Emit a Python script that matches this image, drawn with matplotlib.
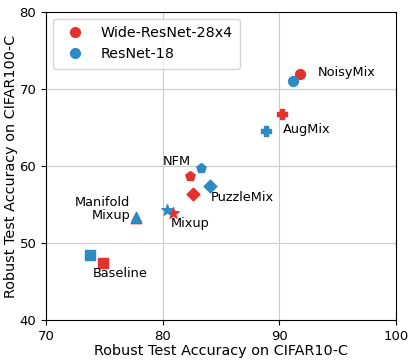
import matplotlib
matplotlib.use("Agg")
import matplotlib.pyplot as plt
from matplotlib.lines import Line2D

# Robust accuracy (CIFAR10-C, CIFAR100-C) per method
methods = ["Baseline", "Manifold Mixup", "Mixup", "PuzzleMix", "NFM", "AugMix", "NoisyMix"]
markers = ["s", "^", "*", "D", "p", "P", "o"]

wrn_c10 = [74.9, 77.7, 80.9, 82.6, 82.3, 90.2, 91.8]
wrn_c100 = [47.4, 53.2, 53.9, 56.4, 58.7, 66.8, 72.0]

rn_c10 = [73.8, 77.7, 80.4, 84.1, 83.3, 88.9, 91.2]
rn_c100 = [48.4, 53.4, 54.3, 57.4, 59.7, 64.6, 71.0]

red = "#e3312d"
blue = "#2f8ac4"

fig = plt.figure(figsize=(4.15, 3.63), dpi=100)
ax = fig.add_axes([0.111, 0.118, 0.843, 0.849])

sizes = {"s": 50, "^": 55, "*": 70, "D": 42, "p": 50, "P": 50, "o": 50}
for i, m in enumerate(methods):
    ax.scatter(wrn_c10[i], wrn_c100[i], marker=markers[i], color=red, s=sizes[markers[i]], zorder=3)
    ax.scatter(rn_c10[i], rn_c100[i], marker=markers[i], color=blue, s=sizes[markers[i]], zorder=3)

# method labels
fs = 9.3
ax.text(93.3, 72.2, "NoisyMix", fontsize=fs, va="center", ha="left")
ax.text(90.3, 64.8, "AugMix", fontsize=fs, va="center", ha="left")
ax.text(80.0, 60.6, "NFM", fontsize=fs, va="center", ha="left")
ax.text(84.1, 55.9, "PuzzleMix", fontsize=fs, va="center", ha="left")
ax.text(80.7, 52.6, "Mixup", fontsize=fs, va="center", ha="left")
ax.text(77.2, 54.4, "Manifold\nMixup", fontsize=fs, va="center", ha="right", linespacing=1.0)
ax.text(74.0, 46.0, "Baseline", fontsize=fs, va="center", ha="left")

ax.set_xlim(70, 100)
ax.set_ylim(40, 80)
ax.set_xticks([70, 80, 90, 100])
ax.set_yticks([40, 50, 60, 70, 80])
ax.tick_params(labelsize=9.5)
ax.grid(True, color="#cccccc", linewidth=0.8)
ax.set_axisbelow(True)
ax.set_xlabel("Robust Test Accuracy on CIFAR10-C", fontsize=10.4, labelpad=1)
ax.set_ylabel("Robust Test Accuracy on CIFAR100-C", fontsize=10.4, labelpad=1)

handles = [Line2D([], [], marker="o", color=red, linestyle="none", markersize=7),
           Line2D([], [], marker="o", color=blue, linestyle="none", markersize=7)]
ax.legend(handles, ["Wide-ResNet-28x4", "ResNet-18"], loc="upper left",
          fontsize=10.3, handletextpad=0.8, borderpad=0.5)

fig.savefig("out.png", dpi=100)
